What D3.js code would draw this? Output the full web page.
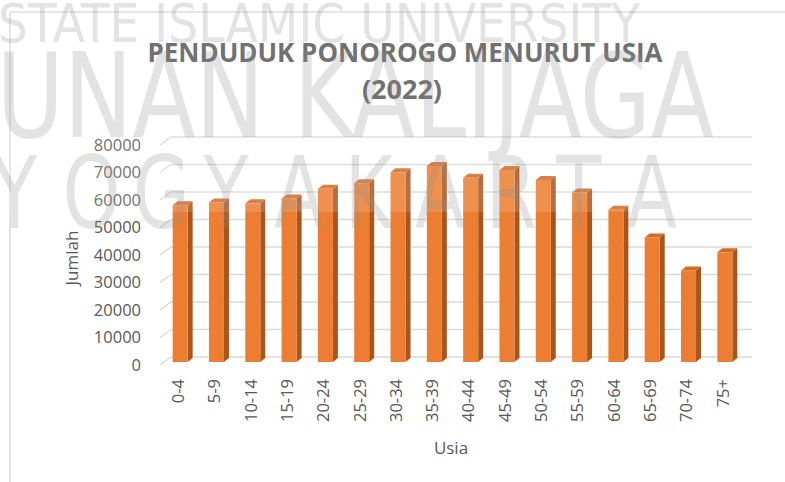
<!DOCTYPE html>
<meta charset="utf-8">
<style>
body { margin: 0; background: #fff; }
text { font-family: "Open Sans", "Noto Sans", sans-serif; fill: #595959; }
.grid line { stroke: #d9d9d9; stroke-width: 1.5px; }
.axis path { display: none; }
</style>
<svg width="785" height="482"></svg>
<script src="https://cdn.jsdelivr.net/npm/d3@7"></script>
<script>
// data
var categories = ["0-4", "5-9", "10-14", "15-19", "20-24", "25-29", "30-34", "35-39",
                  "40-44", "45-49", "50-54", "55-59", "60-64", "65-69", "70-74", "75+"];
var values = [57000, 58000, 57700, 59500, 63000, 65000, 69000, 71300,
              67000, 69800, 66200, 61600, 55400, 45300, 33300, 39900];
var yTicks = [0, 10000, 20000, 30000, 40000, 50000, 60000, 70000, 80000];
var watermark = ["STATE ISLAMIC UNIVERSITY", "SUNAN KALIJAGA", "YOGYAKARTA"];

var svg = d3.select("svg");

// chart frame
svg.append("rect")
    .attr("x", 10).attr("y", 12)
    .attr("width", 790).attr("height", 480)
    .attr("fill", "#fff")
    .attr("stroke", "#d9d9d9")
    .attr("stroke-width", 1.5);

// scales: bars sit on the middle plane, gridlines on the back wall
var x = d3.scaleBand().domain(categories).range([162, 743]).paddingInner(0.587).paddingOuter(0.2935);
var y = d3.scaleLinear().domain([0, 80000]).range([362, 142]);
var back = {dx: 9, dy: -5},   // bar plane -> back wall
    side = {dx: -2, dy: 3},   // bar plane -> front edge of side wall
    depth = {dx: 5, dy: -4};  // bar thickness

var x0 = x.range()[0], x1 = x.range()[1];

//gridlines on back wall and side wall
var grid = svg.append("g").attr("class", "grid");
grid.selectAll(".back")
    .data(yTicks)
  .enter().append("line")
    .attr("x1", x0 + back.dx)
    .attr("x2", x1 + back.dx)
    .attr("y1", function(d) { return y(d) + back.dy; })
    .attr("y2", function(d) { return y(d) + back.dy; });
grid.selectAll(".side")
    .data(yTicks)
  .enter().append("line")
    .attr("x1", x0 + side.dx)
    .attr("x2", x0 + back.dx)
    .attr("y1", function(d) { return y(d) + side.dy; })
    .attr("y2", function(d) { return y(d) + back.dy; });

//bars
var bw = x.bandwidth();
var bar = svg.append("g").selectAll("g")
    .data(categories)
  .enter().append("g");

bar.append("polygon")
    .attr("fill", "#a9561d")
    .attr("points", function(d, i) {
      var l = x(d) + bw, t = y(values[i]), b = y(0);
      return [[l, t], [l + depth.dx, t + depth.dy], [l + depth.dx, b + depth.dy], [l, b]].join(" ");
    });
bar.append("polygon")
    .attr("fill", "#d06c2a")
    .attr("points", function(d, i) {
      var l = x(d), t = y(values[i]);
      return [[l, t], [l + depth.dx, t + depth.dy], [l + bw + depth.dx, t + depth.dy], [l + bw, t]].join(" ");
    });
bar.append("rect")
    .attr("fill", "#ed7d31")
    .attr("x", function(d) { return x(d); })
    .attr("y", function(d, i) { return y(values[i]); })
    .attr("width", bw)
    .attr("height", function(d, i) { return y(0) - y(values[i]); });

//y axis
svg.append("g")
    .attr("class", "axis")
    .attr("transform", "translate(145,3)")
    .call(d3.axisLeft(y).tickValues(yTicks).tickSize(0).tickPadding(4).tickFormat(d3.format("d")))
    .selectAll("text")
    .style("font-size", "16.5px")
    .attr("fill", "#595959");

//x axis
svg.append("g")
    .attr("class", "axis")
    .attr("transform", "translate(-2,374)")
    .call(d3.axisBottom(x).tickSize(0))
    .selectAll("text")
    .attr("transform", "rotate(-90)")
    .attr("x", -5)
    .attr("y", 0)
    .attr("dy", "0.35em")
    .style("text-anchor", "end")
    .style("font-size", "16.5px")
    .attr("fill", "#595959");

//axis titles
svg.append("text")
    .attr("transform", "translate(78,258) rotate(-90)")
    .attr("text-anchor", "middle")
    .style("font-size", "17px")
    .text("Jumlah");

svg.append("text")
    .attr("x", 451)
    .attr("y", 454)
    .attr("text-anchor", "middle")
    .style("font-size", "17px")
    .text("Usia");

//title
var title = svg.append("text")
    .attr("text-anchor", "middle")
    .style("font-size", "27px")
    .style("font-weight", "bold");
title.append("tspan").attr("x", 405).attr("y", 62)
    .attr("textLength", 515).attr("lengthAdjust", "spacingAndGlyphs")
    .text("PENDUDUK PONOROGO MENURUT USIA");
title.append("tspan").attr("x", 402).attr("y", 99).text("(2022)");

//watermark sitting on top of everything
var wm = svg.append("g").attr("pointer-events", "none");
wm.append("rect")
    .attr("x", 0).attr("y", 0)
    .attr("width", 785).attr("height", 212)
    .attr("fill", "#fff")
    .attr("opacity", 0.15);

var wmText = wm.append("g")
    .attr("opacity", 0.25);

wmText.append("text")
    .attr("x", -2).attr("y", 42)
    .attr("textLength", 642).attr("lengthAdjust", "spacingAndGlyphs")
    .style("font-family", "'DejaVu Sans Condensed', 'Liberation Sans', sans-serif")
    .style("font-size", "54px")
    .style("fill", "#8c8c8c")
    .text(watermark[0]);

wmText.append("text")
    .attr("x", -62).attr("y", 137)
    .attr("textLength", 776).attr("lengthAdjust", "spacingAndGlyphs")
    .style("font-family", "'DejaVu Sans Condensed', 'Liberation Sans', sans-serif")
    .style("font-size", "118px")
    .style("fill", "#8c8c8c")
    .text(watermark[1]);

wmText.selectAll(".wl")
    .data(watermark[2].split(""))
  .enter().append("text")
    .attr("transform", function(d, i) { return "translate(" + (-8 + i * 70.5) + ",228) scale(0.82,1)"; })
    .style("font-family", "'DejaVu Sans Condensed', 'Liberation Sans', sans-serif")
    .style("font-size", "100px")
    .style("fill", "#8c8c8c")
    .text(function(d) { return d; });
</script>
